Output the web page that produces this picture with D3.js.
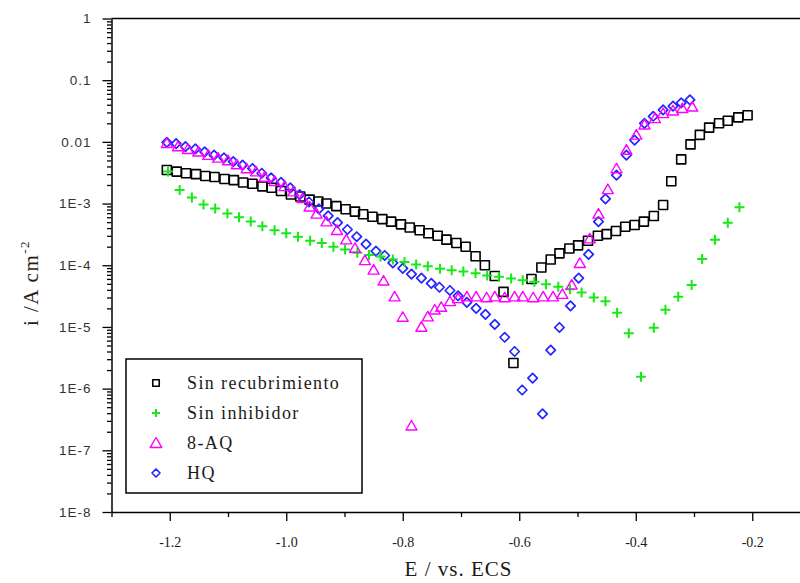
<!DOCTYPE html>
<html>
<head>
<meta charset="utf-8">
<script src="https://cdn.jsdelivr.net/npm/d3@7"></script>
<style>
  body { margin: 0; background: #fff; }
</style>
</head>
<body>
<svg id="chart" width="800" height="583"></svg>
<script>
// Potential (V vs. ECS) and current density (A/cm2).
var bareE = [-1.205,-1.188,-1.172,-1.155,-1.139,-1.123,-1.106,-1.090,-1.074,-1.058,-1.041,-1.025,-1.009,-0.992,-0.976,-0.960,-0.945,-0.931,-0.914,-0.898,-0.882,-0.868,-0.852,-0.835,-0.820,-0.803,-0.788,-0.771,-0.756,-0.740,-0.725,-0.708,-0.692,-0.675,-0.659,-0.642,-0.627,-0.610,
             -0.579,-0.562,-0.546,-0.531,-0.514,-0.499,-0.482,-0.465,-0.450,-0.434,-0.418,-0.402,-0.386,-0.369,-0.353,-0.339,-0.322,-0.306,-0.290,-0.274,-0.257,-0.242,-0.224,-0.208];
var bareI = [3.5e-3,3.3e-3,3.1e-3,3.0e-3,2.8e-3,2.7e-3,2.5e-3,2.4e-3,2.2e-3,2.1e-3,1.9e-3,1.8e-3,1.6e-3,1.4e-3,1.3e-3,1.16e-3,1.08e-3,1.0e-3,9.1e-4,8.1e-4,7.4e-4,6.7e-4,6.1e-4,5.6e-4,5.1e-4,4.6e-4,4.1e-4,3.7e-4,3.3e-4,3.0e-4,2.6e-4,2.3e-4,2.0e-4,1.4e-4,1.0e-4,6.7e-5,3.7e-5,2.6e-6,
             6.0e-5,9.2e-5,1.24e-4,1.56e-4,1.87e-4,2.1e-4,2.5e-4,3.0e-4,3.2e-4,3.6e-4,4.2e-4,4.5e-4,5.1e-4,6.3e-4,9.5e-4,2.3e-3,5.2e-3,9.1e-3,1.3e-2,1.7e-2,2.0e-2,2.2e-2,2.5e-2,2.7e-2];

var inhE = [-1.203,-1.183,-1.162,-1.142,-1.122,-1.101,-1.081,-1.061,-1.041,-1.020,-1.000,-0.980,-0.959,-0.939,-0.919,-0.899,-0.878,-0.858,-0.838,-0.817,-0.797,-0.777,-0.757,-0.736,-0.716,-0.696,-0.675,-0.655,-0.635,-0.614,-0.594,-0.574,-0.554,-0.533,-0.513,-0.493,-0.472,-0.452,-0.432,-0.412,-0.391,
            -0.369,-0.349,-0.327,-0.304,-0.286,-0.264,-0.242,-0.222];
var inhI = [3.3e-3,1.66e-3,1.25e-3,9.7e-4,8.3e-4,6.9e-4,6.0e-4,5.1e-4,4.3e-4,3.7e-4,3.3e-4,2.9e-4,2.5e-4,2.3e-4,2.0e-4,1.8e-4,1.6e-4,1.47e-4,1.39e-4,1.24e-4,1.13e-4,1.03e-4,9.6e-5,8.8e-5,8.3e-5,7.9e-5,7.4e-5,6.8e-5,6.5e-5,6.1e-5,5.7e-5,5.4e-5,4.9e-5,4.5e-5,4.1e-5,3.6e-5,3.0e-5,2.6e-5,1.7e-5,7.9e-6,1.56e-6,
            9.7e-6,1.9e-5,3.1e-5,4.8e-5,1.26e-4,2.6e-4,4.9e-4,8.7e-4];

var aqE = [-1.205,-1.186,-1.169,-1.151,-1.134,-1.117,-1.100,-1.085,-1.068,-1.052,-1.037,-1.020,-1.003,-0.988,-0.972,-0.960,-0.948,-0.931,-0.913,-0.897,-0.882,-0.865,-0.850,-0.833,-0.814,-0.800,-0.785,
           -0.768,-0.757,-0.745,-0.734,-0.719,-0.705,-0.690,-0.674,-0.656,-0.642,-0.625,-0.608,-0.594,-0.576,-0.559,-0.542,-0.526,-0.510,-0.496,-0.479,-0.464,-0.448,-0.433,-0.416,-0.399,-0.385,-0.367,-0.353,-0.336,-0.320,-0.303];
var aqI = [9.5e-3,8.4e-3,7.6e-3,6.9e-3,6.1e-3,5.5e-3,5.0e-3,4.3e-3,3.7e-3,3.3e-3,2.7e-3,2.3e-3,1.9e-3,1.56e-3,1.22e-3,8.9e-4,6.8e-4,5.1e-4,3.7e-4,2.6e-4,1.9e-4,1.2e-4,8.4e-5,5.6e-5,3.1e-5,1.45e-5,2.5e-7,
           1.0e-5,1.47e-5,1.9e-5,2.1e-5,2.6e-5,2.9e-5,3.1e-5,3.1e-5,3.0e-5,3.1e-5,3.0e-5,3.1e-5,3.1e-5,3.0e-5,3.1e-5,3.1e-5,3.4e-5,4.8e-5,1.08e-4,2.7e-4,6.8e-4,1.7e-3,3.7e-3,7.4e-3,1.3e-2,1.9e-2,2.4e-2,2.9e-2,3.2e-2,3.5e-2,3.7e-2];

var hqE = [-1.205,-1.189,-1.173,-1.156,-1.140,-1.124,-1.107,-1.091,-1.075,-1.058,-1.042,-1.026,-1.009,-0.993,-0.977,-0.961,-0.944,-0.928,-0.912,-0.895,-0.879,-0.863,-0.846,-0.831,-0.817,-0.800,-0.785,-0.768,-0.751,-0.737,-0.719,-0.705,-0.690,-0.674,-0.658,-0.642,-0.625,-0.608,
           -0.595,-0.577,-0.560,-0.546,-0.531,-0.512,-0.498,-0.481,-0.464,-0.452,-0.433,-0.416,-0.402,-0.385,-0.370,-0.353,-0.336,-0.322,-0.307];
var hqI = [9.8e-3,9.4e-3,8.4e-3,7.7e-3,6.9e-3,6.1e-3,5.5e-3,4.8e-3,4.2e-3,3.7e-3,3.1e-3,2.6e-3,2.2e-3,1.8e-3,1.4e-3,1.06e-3,8.2e-4,6.3e-4,4.9e-4,3.8e-4,2.9e-4,2.2e-4,1.7e-4,1.44e-4,1.09e-4,8.9e-5,7.2e-5,6.2e-5,5.1e-5,4.4e-5,3.9e-5,3.2e-5,2.5e-5,2.0e-5,1.6e-5,1.1e-5,6.8e-6,4.0e-6,
           9.5e-7,1.48e-6,3.9e-7,4.2e-6,9.8e-6,2.2e-5,6.2e-5,1.5e-4,5.1e-4,1.19e-3,2.9e-3,6.1e-3,1.07e-2,2.0e-2,2.6e-2,3.3e-2,3.8e-2,4.3e-2,4.8e-2];

var seriesNames = ["Sin recubrimiento", "Sin inhibidor", "8-AQ", "HQ"];
var eMajorTicks = [-1.2, -1.0, -0.8, -0.6, -0.4, -0.2];
var eMinorTicks = [-1.3, -1.1, -0.9, -0.7, -0.5, -0.3];
var iTicks = [1e-8, 1e-7, 1e-6, 1e-5, 1e-4, 1e-3, 1e-2, 1e-1, 1];
var iTickLabels = ["1E-8", "1E-7", "1E-6", "1E-5", "1E-4", "1E-3", "0.01", "0.1", "1"];

var serif = "'Liberation Serif', 'Times New Roman', serif",
    sans = "'Liberation Sans', Arial, sans-serif";

var svg = d3.select("#chart");

var x = d3.scaleLinear().domain([-1.3, -0.1]).range([111.5, 810.5]);
var y = d3.scaleLog().domain([1e-8, 1]).range([512, 18.5]);

// minor log ticks 2..9 in each decade
var iMinor = [];
for (var p = -8; p < 0; p++) {
  for (var k = 2; k <= 9; k++) iMinor.push(k * Math.pow(10, p));
}

// marker shapes, r = half size
function shape(kind) {
  return {
    draw: function(ctx, size) {
      var r = Math.sqrt(size) / 2;
      if (kind == "square") {
        ctx.rect(-r, -r, 2 * r, 2 * r);
      } else if (kind == "plus") {
        ctx.moveTo(-r, 0); ctx.lineTo(r, 0);
        ctx.moveTo(0, -r); ctx.lineTo(0, r);
      } else if (kind == "triangle") {
        ctx.moveTo(0, -r * 1.05); ctx.lineTo(r * 1.1, r * 0.85); ctx.lineTo(-r * 1.1, r * 0.85); ctx.closePath();
      } else {
        ctx.moveTo(0, -r); ctx.lineTo(r, 0); ctx.lineTo(0, r); ctx.lineTo(-r, 0); ctx.closePath();
      }
    }
  };
}

var styles = [
  {kind: "square",   color: "#000000", width: 1.6, size: 81,  legendSize: 42},
  {kind: "plus",     color: "#18e818", width: 2,   size: 100, legendSize: 64},
  {kind: "triangle", color: "#ff00ff", width: 1.4, size: 100, legendSize: 110},
  {kind: "diamond",  color: "#2424ff", width: 1.7, size: 90,  legendSize: 64}
];
var seriesData = [[bareE, bareI], [inhE, inhI], [aqE, aqI], [hqE, hqI]];

// axes
var xAxis = svg.append("g")
    .attr("transform", "translate(0," + y(1e-8) + ")")
    .call(d3.axisBottom(x).tickValues(eMajorTicks).tickSize(9).tickSizeOuter(0)
          .tickFormat(function(d) { return d.toFixed(1); }));
xAxis.selectAll("text")
    .attr("y", 25)
    .style("font-family", serif).style("font-size", "14px").style("fill", "#1a1a1a");
svg.append("g")
    .attr("transform", "translate(0," + y(1e-8) + ")")
    .call(d3.axisBottom(x).tickValues(eMinorTicks).tickSize(5).tickSizeOuter(0).tickFormat(""))
    .select(".domain").remove();

var yAxis = svg.append("g")
    .attr("transform", "translate(" + x(-1.3) + ",0)")
    .call(d3.axisLeft(y).tickValues(iTicks).tickSize(9).tickPadding(11).tickSizeOuter(0)
          .tickFormat(function(d, i) { return iTickLabels[i]; }));
yAxis.selectAll("text")
    .style("font-family", sans).style("font-size", "13.5px").style("letter-spacing", "1px").style("fill", "#333");
svg.append("g")
    .attr("transform", "translate(" + x(-1.3) + ",0)")
    .call(d3.axisLeft(y).tickValues(iMinor).tickSize(4.5).tickSizeOuter(0).tickFormat(""))
    .select(".domain").remove();

svg.selectAll(".domain").attr("stroke-width", 1.5);
svg.selectAll(".tick line").attr("stroke-width", 1.3);

// top frame line
svg.append("line")
    .attr("x1", x(-1.3)).attr("x2", 800)
    .attr("y1", y(1)).attr("y2", y(1))
    .attr("stroke", "#000").attr("stroke-width", 1.5);

// data markers
var plot = svg.append("g");
var drawOrder = [0, 3, 1, 2];
drawOrder.forEach(function(s) {
  var st = styles[s];
  var pts = seriesData[s][0].map(function(e, i) { return [e, seriesData[s][1][i]]; });
  plot.append("g").selectAll("path")
    .data(pts)
    .enter().append("path")
      .attr("transform", function(d) { return "translate(" + x(d[0]) + "," + y(d[1]) + ")"; })
      .attr("d", d3.symbol().type(shape(st.kind)).size(st.size))
      .attr("fill", "none")
      .attr("stroke", st.color)
      .attr("stroke-linejoin", "round")
      .attr("stroke-width", st.width);
});

// legend
var legend = svg.append("g");
legend.append("rect")
    .attr("x", 126).attr("y", 359).attr("width", 236).attr("height", 134)
    .attr("fill", "#fff").attr("stroke", "#000").attr("stroke-width", 1.5);
seriesNames.forEach(function(name, i) {
  var ry = 383 + i * 30;
  var st = styles[i];
  legend.append("path")
    .attr("transform", "translate(156," + ry + ")")
    .attr("d", d3.symbol().type(shape(st.kind)).size(st.legendSize))
    .attr("fill", "none").attr("stroke", st.color)
    .attr("stroke-linejoin", "round").attr("stroke-width", st.width);
  legend.append("text")
    .attr("x", 187).attr("y", ry + 6)
    .style("font-family", serif).style("font-size", "18px").style("letter-spacing", "1.4px")
    .style("fill", "#1a1a1a")
    .text(name);
});

// axis titles
svg.append("text")
    .attr("x", 458.5).attr("y", 576)
    .attr("text-anchor", "middle")
    .style("font-family", serif).style("font-size", "21px").style("letter-spacing", "1px")
    .style("fill", "#1a1a1a")
    .text("E / vs. ECS");

var yTitle = svg.append("text")
    .attr("transform", "translate(38,283) rotate(-90)")
    .attr("text-anchor", "middle")
    .style("font-family", serif).style("font-size", "21px").style("letter-spacing", "1.5px")
    .style("fill", "#2a1a1a");
yTitle.append("tspan").text("i /A cm");
yTitle.append("tspan").attr("dy", -9).style("font-size", "13px").text("-2");
</script>
</body>
</html>
